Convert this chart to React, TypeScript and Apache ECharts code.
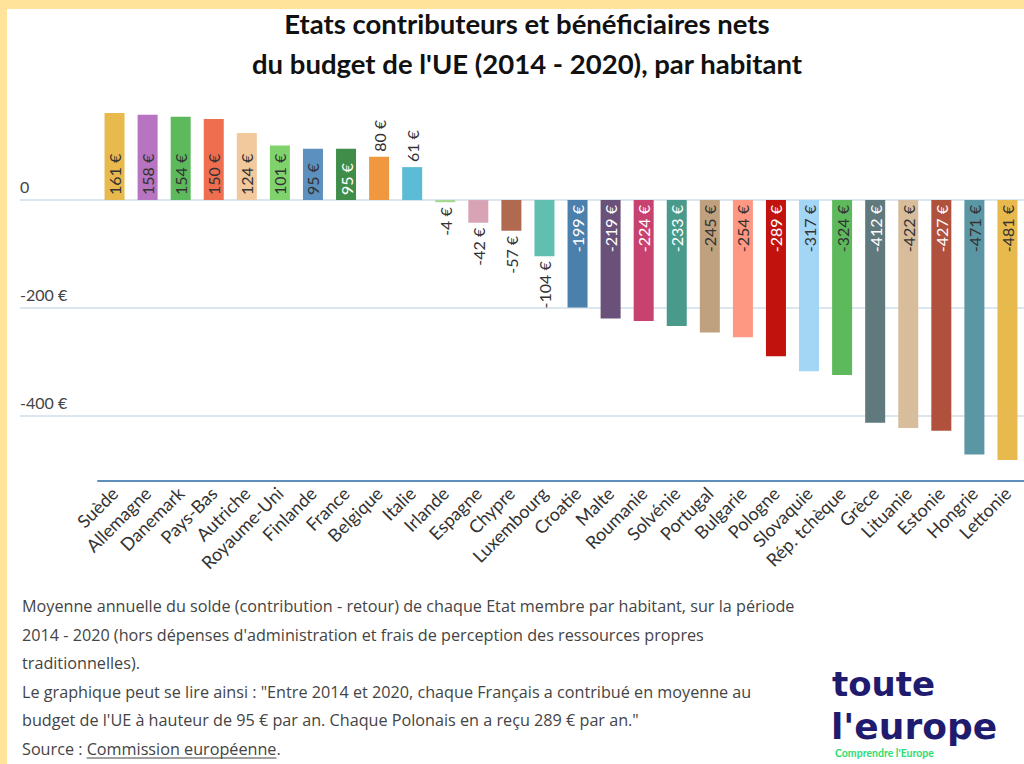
import React, { useEffect, useRef } from "react";
import * as echarts from "echarts";

const countries = [
  "Suède", "Allemagne", "Danemark", "Pays-Bas", "Autriche", "Royaume-Uni", "Finlande",
  "France", "Belgique", "Italie", "Irlande", "Espagne", "Chypre", "Luxembourg", "Croatie",
  "Malte", "Roumanie", "Solvénie", "Portugal", "Bulgarie", "Pologne", "Slovaquie",
  "Rép. tchèque", "Grèce", "Lituanie", "Estonie", "Hongrie", "Lettonie",
];
const values = [
  161, 158, 154, 150, 124, 101, 95, 95, 80, 61, -4, -42, -57, -104, -199, -219, -224, -233,
  -245, -254, -289, -317, -324, -412, -422, -427, -471, -481,
];
const colors = [
  "#e8b94c", "#b774c0", "#5cba5c", "#ef6e50", "#f1c99c", "#80d36c", "#5b90bf", "#3f8d49",
  "#f0983f", "#5cbcd5", "#a4d88e", "#d9a3b6", "#b06a4f", "#60bfb1", "#4a80ab", "#6a5179",
  "#c8426f", "#4a9a8b", "#bfa17f", "#ff9882", "#c1120d", "#a3d5f5", "#5db95b", "#60797d",
  "#d8bd9d", "#b0513d", "#5b96a4", "#e8b94c",
];
const labelColors = [
  "#333", "#333", "#333", "#333", "#333", "#333", "#333", "#fff", "#333", "#333", "#333",
  "#333", "#333", "#333", "#fff", "#fff", "#fff", "#fff", "#333", "#333", "#fff", "#333",
  "#333", "#fff", "#333", "#fff", "#333", "#333",
];
const yTicks = [0, -200, -400];
const titleLines = [
  "Etats contributeurs et bénéficiaires nets",
  "du budget de l'UE (2014 - 2020), par habitant",
];
const footerLines = [
  "Moyenne annuelle du solde (contribution - retour) de chaque Etat membre par habitant, sur la période",
  "2014 - 2020 (hors dépenses d'administration et frais de perception des ressources propres",
  "traditionnelles).",
  "Le graphique peut se lire ainsi : \"Entre 2014 et 2020, chaque Français a contribué en moyenne au",
  "budget de l'UE à hauteur de 95 € par an. Chaque Polonais en a reçu 289 € par an.\"",
];
const sourcePrefix = "Source : ";
const sourceLink = "Commission européenne";

const FONT = "Lato, 'Noto Sans', sans-serif";
const FOOT_FONT = "'Open Sans', 'Noto Sans', sans-serif";
const LOGO_FONT = "'DejaVu Sans', Lato, sans-serif";

function measure(text: string, font: string): number {
  const c = document.createElement("canvas").getContext("2d");
  if (!c) return text.length * 7.5;
  c.font = font;
  return c.measureText(text).width;
}

function labelFor(v: number, color: string) {
  const inside = v >= 0 ? v >= 90 : v <= -150;
  return {
    show: true,
    position: v >= 0 ? (inside ? "insideBottom" : "top") : inside ? "insideTop" : "bottom",
    rotate: 90,
    align: v >= 0 ? "left" : "right",
    verticalAlign: "middle",
    distance: 5,
    color,
    fontSize: 16,
    fontFamily: FONT,
    formatter: () => `${v} €`,
  };
}

export default function App() {
  const ref = useRef<HTMLDivElement>(null);
  useEffect(() => {
    if (!ref.current) return;
    const chart = echarts.init(ref.current, null, { renderer: "svg" });
    const footerTop = 606;
    const footerStep = 28.6;
    const footFont = `16.2px ${FOOT_FONT}`;
    const srcY = footerTop + footerLines.length * footerStep;
    const prefixW = measure(sourcePrefix, footFont);
    const linkW = measure(sourceLink, footFont);
    const graphics: any[] = [
      { type: "rect", shape: { x: 0, y: 0, width: 1024, height: 9 }, style: { fill: "#ffe39b" }, silent: true },
      { type: "rect", shape: { x: 0, y: 0, width: 7, height: 764 }, style: { fill: "#ffe39b" }, silent: true },
      ...titleLines.map((t, i) => ({
        type: "text",
        x: 527,
        y: 23 + i * 40,
        style: { text: t, fill: "#111", font: `bold 27.5px ${FONT}`, textAlign: "center", textVerticalAlign: "middle" },
      })),
      ...footerLines.map((t, i) => ({
        type: "text",
        x: 22,
        y: footerTop + i * footerStep,
        style: { text: t, fill: "#444", font: footFont, textAlign: "left", textVerticalAlign: "middle" },
      })),
      {
        type: "text", x: 22, y: srcY,
        style: { text: sourcePrefix, fill: "#444", font: footFont, textAlign: "left", textVerticalAlign: "middle" },
      },
      {
        type: "text", x: 22 + prefixW, y: srcY,
        style: { text: sourceLink + ".", fill: "#444", font: footFont, textAlign: "left", textVerticalAlign: "middle" },
      },
      {
        type: "line",
        shape: { x1: 22 + prefixW, y1: srcY + 9, x2: 22 + prefixW + linkW, y2: srcY + 9 },
        style: { stroke: "#444", lineWidth: 1 },
      },
      {
        type: "text", x: 832, y: 684,
        style: { text: "toute", fill: "#1f1b6e", font: `bold 34px ${LOGO_FONT}`, textAlign: "left", textVerticalAlign: "middle" },
      },
      {
        type: "text", x: 831, y: 726,
        style: { text: "l'europe", fill: "#1f1b6e", font: `bold 36px ${LOGO_FONT}`, textAlign: "left", textVerticalAlign: "middle" },
      },
      {
        type: "text", x: 835, y: 753,
        style: { text: "Comprendre l'Europe", fill: "#2edc72", font: `bold 10.5px ${FONT}`, textAlign: "left", textVerticalAlign: "middle" },
      },
    ];

    chart.setOption({
      animation: false,
      backgroundColor: "#ffffff",
      graphic: graphics,
      grid: [
        { left: 98, width: 928, top: 92, height: 389, containLabel: false },
        { left: 20, width: 1010, top: 200, height: 216, containLabel: false },
      ],
      xAxis: [
        {
          type: "category",
          gridIndex: 0,
          data: countries,
          axisTick: { show: false },
          axisLine: { onZero: false, lineStyle: { color: "#5e8fbb", width: 2 } },
          axisLabel: { interval: 0, rotate: 45, margin: 9, color: "#333", fontSize: 18, fontFamily: FONT },
        },
        { type: "value", gridIndex: 1, show: false, min: 0, max: 1 },
      ],
      yAxis: [
        { type: "value", gridIndex: 0, min: -520, max: 200, show: false },
        {
          type: "value",
          gridIndex: 1,
          min: yTicks[yTicks.length - 1],
          max: yTicks[0],
          interval: 200,
          axisLine: { show: false },
          axisTick: { show: false },
          splitLine: { show: true, lineStyle: { color: "#dbe6ef", width: 2 } },
          axisLabel: {
            inside: true,
            margin: 0,
            align: "left",
            verticalAlign: "bottom",
            padding: [0, 0, 6, 0],
            color: "#444",
            fontSize: 16,
            fontFamily: FONT,
            formatter: (v: number) => (v === 0 ? "0" : `${v} €`),
          },
        },
      ],
      series: [
        {
          type: "bar",
          xAxisIndex: 0,
          yAxisIndex: 0,
          barWidth: 20,
          data: values.map((v, i) => ({
            value: v,
            itemStyle: { color: colors[i] },
            label: labelFor(v, labelColors[i]),
          })),
        },
      ],
    });
    return () => chart.dispose();
  }, []);

  return (
    <div
      ref={ref}
      style={{ position: "absolute", left: 0, top: 0, width: 1024, height: 764, background: "#fff" }}
    />
  );
}
